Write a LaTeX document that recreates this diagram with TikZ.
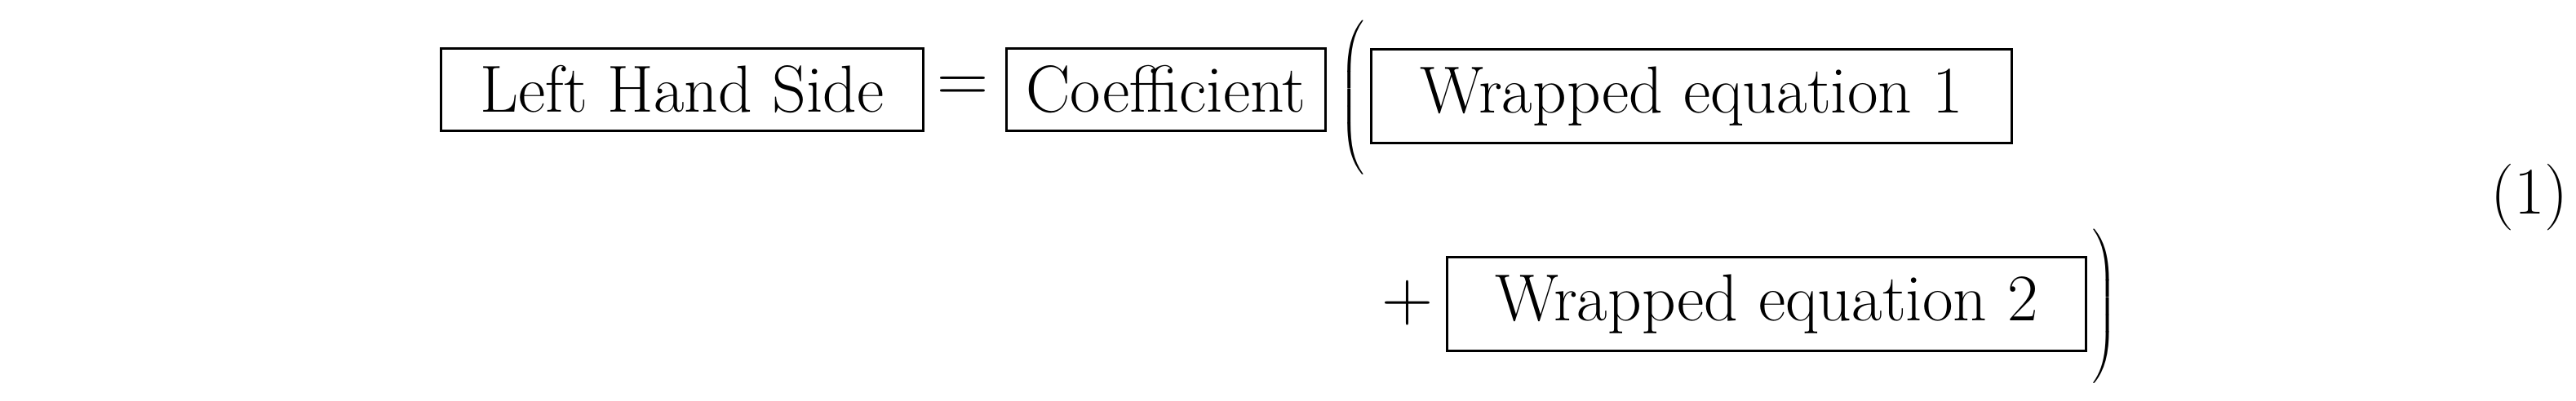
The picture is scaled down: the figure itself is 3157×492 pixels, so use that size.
\documentclass[tikz,border=0pt]{standalone}
\begin{document}
\begin{tikzpicture}[x=0.01cm,y=-0.01cm,
  every node/.style={font=\fontsize{23.2}{27}\selectfont, inner sep=0pt},
  eqbox/.style={draw, line width=0.8pt, minimum height=1.01cm}]
\useasboundingbox (0,0) rectangle (3157,492);
\node[eqbox, minimum width=5.9cm] (lhs) at (836,110) {Left Hand Side};
\node (eq) at (1180,110) {$=$};
\node[eqbox, minimum width=3.91cm] (coef) at (1429,110) {Coefficient};
\node (lp) at (1659,120) {$\left(\vrule height 21pt depth 21pt width 0pt\right.$};
\node[eqbox, minimum width=7.85cm, minimum height=1.15cm] (w1) at (2073,118) {Wrapped equation 1};
\node (plus) at (1725,372) {$+$};
\node[eqbox, minimum width=7.83cm, minimum height=1.15cm] (w2) at (2165,373) {Wrapped equation 2};
\node (rp) at (2578,376) {$\left.\vrule height 21pt depth 21pt width 0pt\right)$};
\node (num) at (3100,242) {(1)};
\end{tikzpicture}
\end{document}
